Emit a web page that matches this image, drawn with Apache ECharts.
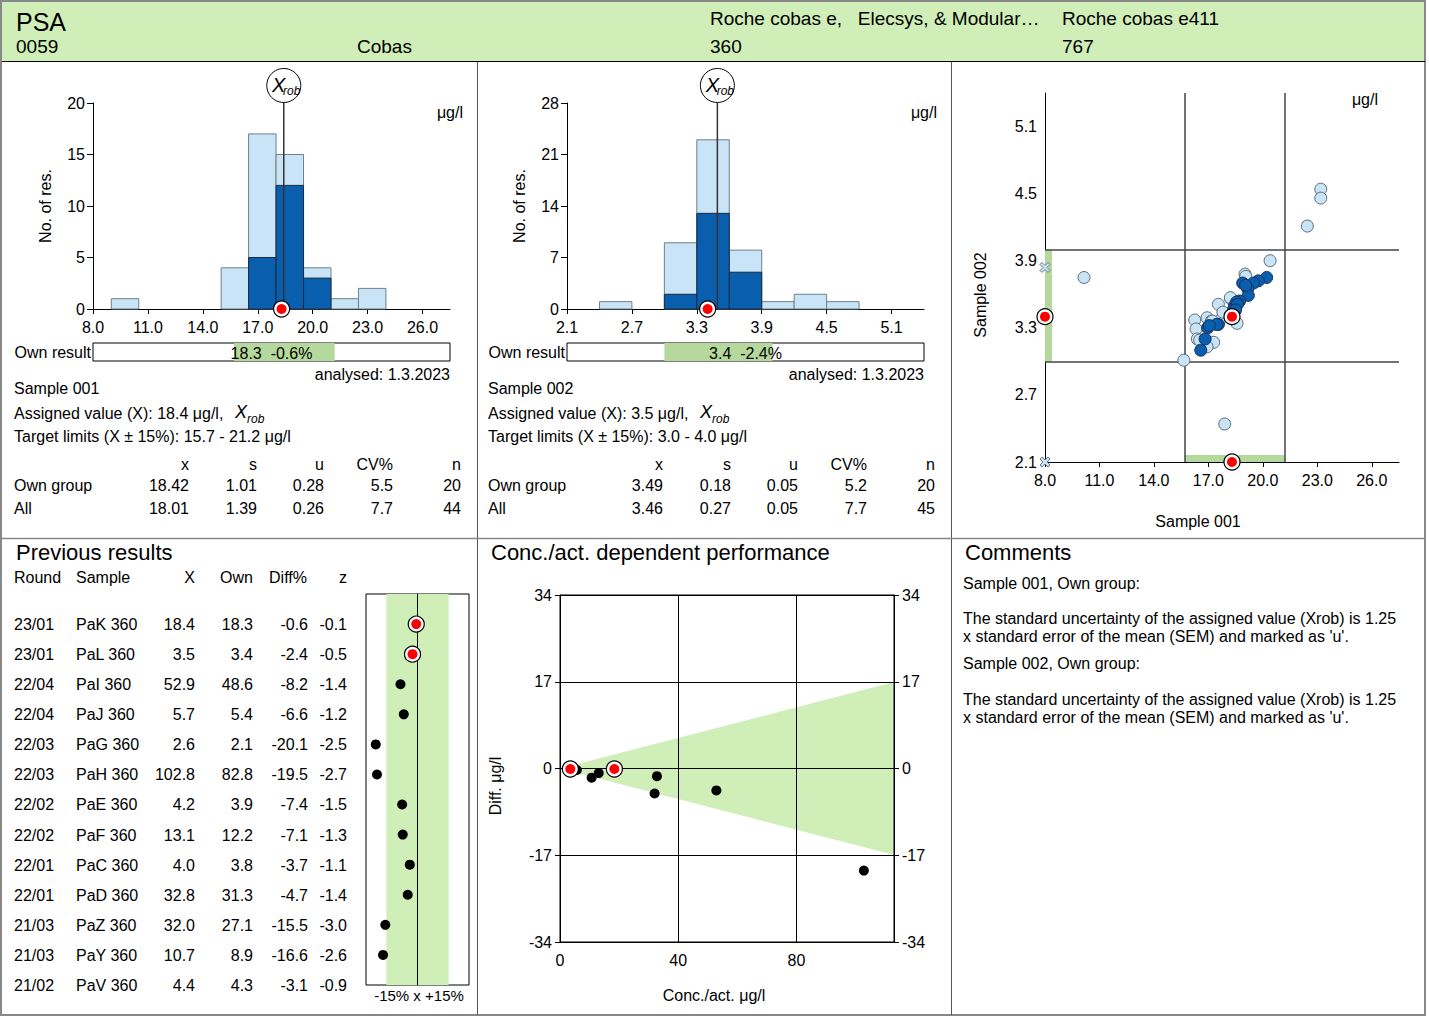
<!DOCTYPE html>
<html>
<head>
<meta charset="utf-8">
<title>PSA 0059</title>
<script src="https://cdn.jsdelivr.net/npm/echarts@6.0.0/dist/echarts.min.js"></script>
<style>
html,body{margin:0;padding:0;background:#fff;}
#main{width:1429px;height:1018px;}
</style>
</head>
<body>
<div id="main"></div>
<script>
// ---- sample 001 histogram (ug/l) ----
var hist1Lo  = [9.0, 15.0, 16.5, 18.0, 19.5, 21.0, 22.5];
var hist1Hi  = [10.5, 16.5, 18.0, 19.5, 21.0, 22.5, 24.0];
var hist1All = [1, 4, 17, 15, 4, 1, 2];
var hist1Own = [0, 0, 5, 12, 3, 0, 0];
var hist1Ticks = [8, 11, 14, 17, 20, 23, 26];
var xrob1 = 18.42, own1 = 18.3, limits1 = [15.7, 21.2];

// ---- sample 002 histogram ----
var hist2Lo  = [2.4, 3.0, 3.3, 3.6, 3.9, 4.2, 4.5];
var hist2Hi  = [2.7, 3.3, 3.6, 3.9, 4.2, 4.5, 4.8];
var hist2All = [1, 9, 23, 8, 1, 2, 1];
var hist2Own = [0, 2, 13, 5, 0, 0, 0];
var hist2Ticks = [2.1, 2.7, 3.3, 3.9, 4.5, 5.1];
var xrob2 = 3.49, own2 = 3.4, limits2 = [3.0, 4.0];

// ---- stats tables ----
var statHead = ['x', 's', 'u', 'CV%', 'n'];
var stat1Own = ['18.42', '1.01', '0.28', '5.5', '20'];
var stat1All = ['18.01', '1.39', '0.26', '7.7', '44'];
var stat2Own = ['3.49', '0.18', '0.05', '5.2', '20'];
var stat2All = ['3.46', '0.27', '0.05', '7.7', '45'];

// ---- Youden plot: sample 001 vs sample 002 ----
var youdenAllX = [23.19, 23.19, 22.45, 10.15, 20.40, 15.65, 17.90, 19.02, 18.23, 17.55, 16.25, 16.32,
                  16.39, 16.93, 17.16, 17.29, 16.93, 17.59, 18.58, 17.80, 19.06, 16.52, 17.22, 18.21];
var youdenAllY = [4.54, 4.46, 4.21, 3.75, 3.90, 3.01, 2.44, 3.78, 3.56, 3.51, 3.37, 3.29,
                  3.20, 3.39, 3.36, 3.17, 3.13, 3.36, 3.34, 3.44, 3.76, 3.19, 3.36, 3.57];
var youdenOwnX = [20.21, 19.75, 19.48, 18.89, 19.17, 19.20, 18.72, 18.55, 18.45, 18.40, 18.60, 17.55,
                  17.45, 16.96, 17.05, 16.82, 16.58, 18.50, 19.05];
var youdenOwnY = [3.75, 3.72, 3.70, 3.70, 3.65, 3.59, 3.54, 3.53, 3.50, 3.47, 3.51, 3.33,
                  3.33, 3.30, 3.32, 3.20, 3.10, 3.46, 3.68];
var youdenOutX = [8.0, 8.0];
var youdenOutY = [3.84, 2.1];
var youdenYTicks = [2.1, 2.7, 3.3, 3.9, 4.5, 5.1];

// ---- previous results ----
var currentRound = '23/01';
var prevRound  = ['23/01','23/01','22/04','22/04','22/03','22/03','22/02','22/02','22/01','22/01','21/03','21/03','21/02'];
var prevSample = ['PaK 360','PaL 360','PaI 360','PaJ 360','PaG 360','PaH 360','PaE 360','PaF 360','PaC 360','PaD 360','PaZ 360','PaY 360','PaV 360'];
var prevX      = [18.4, 3.5, 52.9, 5.7, 2.6, 102.8, 4.2, 13.1, 4.0, 32.8, 32.0, 10.7, 4.4];
var prevOwn    = [18.3, 3.4, 48.6, 5.4, 2.1, 82.8, 3.9, 12.2, 3.8, 31.3, 27.1, 8.9, 4.3];
var prevDiffP  = [-0.6, -2.4, -8.2, -6.6, -20.1, -19.5, -7.4, -7.1, -3.7, -4.7, -15.5, -16.6, -3.1];
var prevZ      = [-0.1, -0.5, -1.4, -1.2, -2.5, -2.7, -1.5, -1.3, -1.1, -1.4, -3.0, -2.6, -0.9];
var prevDiffU  = [-0.1, -0.1, -4.3, -0.3, -0.5, -20.0, -0.3, -0.9, -0.2, -1.5, -4.9, -1.8, -0.1];
var trendRows  = 12;   // rows shown in the small diff% plot

// ---- conc. dependent target band ----
var bandX  = [0, 113];
var bandHi = [0, 16.95];
var bandLo = [0, -16.95];

var FONT = '"Liberation Sans", Arial, sans-serif';
var GREEN_LIGHT = '#d0eeb8', GREEN = '#b5d99c';
var BLUE_LIGHT = '#c8e4f6', BLUE = '#0a5eae';

function txt(x, y, s, size, align, italic, rot) {
    var a = align || 'left';
    return {type:'text', x:x, y:y, rotation:rot || 0, silent:true, z:10,
        style:{text:s, fill:'#000', font:(italic ? 'italic ' : '') + (size || 16) + 'px ' + FONT,
            align:a, textAlign:a, verticalAlign:'middle', textVerticalAlign:'middle'}};
}
function hline(x1, x2, y, color, w) {
    return {type:'line', silent:true, shape:{x1:x1, y1:y, x2:x2, y2:y}, style:{stroke:color, lineWidth:w}};
}
function vline(x, y1, y2, color, w) {
    return {type:'line', silent:true, shape:{x1:x, y1:y1, x2:x, y2:y2}, style:{stroke:color, lineWidth:w}};
}
function zip(a, b) { return a.map(function (v, i) { return [v, b[i]]; }); }

function barSeries(idx, lo, hi, counts, fill, stroke, z) {
    var data = [];
    for (var i = 0; i < lo.length; i++) if (counts[i] > 0) data.push([lo[i], hi[i], counts[i]]);
    return {type:'custom', xAxisIndex:idx, yAxisIndex:idx, z:z, data:data, encode:{x:[0, 1], y:2},
        renderItem:function (params, api) {
            var p0 = api.coord([api.value(0), api.value(2)]);
            var p1 = api.coord([api.value(1), 0]);
            return {type:'rect', shape:{x:p0[0], y:p0[1], width:p1[0] - p0[0], height:p1[1] - p0[1]},
                style:{fill:fill, stroke:stroke, lineWidth:1}};
        }};
}
function xrobSeries(idx, xrob, ymax) {
    return {type:'custom', xAxisIndex:idx, yAxisIndex:idx, z:5, clip:false, data:[[xrob, ymax]], encode:{x:0, y:1},
        renderItem:function (params, api) {
            var b = api.coord([api.value(0), 0]);
            var t = api.coord([api.value(0), api.value(1)]);
            var cx = t[0], cy = t[1] - 17.5;
            return {type:'group', children:[
                {type:'line', shape:{x1:b[0], y1:b[1], x2:t[0], y2:t[1]}, style:{stroke:'#333', lineWidth:1.5}},
                {type:'circle', shape:{cx:cx, cy:cy, r:17}, style:{fill:'#fff', stroke:'#000', lineWidth:1}},
                {type:'text', x:cx - 5, y:cy - 1, style:{text:'X', font:'italic 20px ' + FONT, fill:'#000',
                    align:'center', textAlign:'center', verticalAlign:'middle', textVerticalAlign:'middle'}},
                {type:'text', x:cx + 8, y:cy + 5, style:{text:'rob', font:'italic 12px ' + FONT, fill:'#000',
                    align:'center', textAlign:'center', verticalAlign:'middle', textVerticalAlign:'middle'}}
            ]};
        }};
}
function stripSeries(idx, lim) {
    return {type:'custom', xAxisIndex:idx, yAxisIndex:idx, z:2, data:[lim], encode:{x:[0, 1]},
        renderItem:function (params, api) {
            var p0 = api.coord([api.value(0), 1]);
            var p1 = api.coord([api.value(1), 0]);
            return {type:'rect', shape:{x:p0[0], y:p0[1], width:p1[0] - p0[0], height:p1[1] - p0[1]}, style:{fill:GREEN}};
        }};
}
function ownMarker(xi, yi, data) {
    return [
        {type:'scatter', xAxisIndex:xi, yAxisIndex:yi, data:data, symbol:'circle', symbolSize:16, clip:false, z:8, silent:true,
            itemStyle:{color:'#fff', borderColor:'#000', borderWidth:1.2, opacity:1}},
        {type:'scatter', xAxisIndex:xi, yAxisIndex:yi, data:data, symbol:'circle', symbolSize:10, clip:false, z:9, silent:true,
            itemStyle:{color:'#ff0000', borderWidth:0, opacity:1}}
    ];
}
function f1(v) { return v.toFixed(1); }

var lab = {color:'#000', fontSize:16, fontFamily:FONT};
function histX(gi, min, max, ticks) {
    return {gridIndex:gi, type:'value', min:min, max:max,
        axisLine:{show:true, lineStyle:{color:'#000', width:1}},
        axisTick:{show:true, customValues:ticks, length:5, lineStyle:{color:'#000'}},
        axisLabel:Object.assign({customValues:ticks, formatter:f1, margin:10}, lab),
        splitLine:{show:false}};
}
function histY(gi, max, step) {
    return {gridIndex:gi, type:'value', min:0, max:max, interval:step,
        axisLine:{show:true, lineStyle:{color:'#000', width:1}},
        axisTick:{show:true, length:6, lineStyle:{color:'#000'}},
        axisLabel:Object.assign({margin:8}, lab), splitLine:{show:false}};
}
function hidden(gi, min, max, inv) {
    return {gridIndex:gi, type:'value', min:min, max:max, show:false, inverse:!!inv};
}

// rows of the previous-results table
var prevTrend = [], prevTrendOwn = [], concPts = [], concOwn = [];
for (var i = 0; i < prevRound.length; i++) {
    var cur = prevRound[i] === currentRound;
    if (i < trendRows) (cur ? prevTrendOwn : prevTrend).push([prevDiffP[i], i]);
    (cur ? concOwn : concPts).push([prevX[i], prevDiffU[i]]);
}

var series = [
    barSeries(0, hist1Lo, hist1Hi, hist1All, BLUE_LIGHT, '#6f7f8b', 2),
    barSeries(0, hist1Lo, hist1Hi, hist1Own, BLUE, '#1b2b3c', 3),
    xrobSeries(0, xrob1, 20),
    stripSeries(1, limits1),
    barSeries(2, hist2Lo, hist2Hi, hist2All, BLUE_LIGHT, '#6f7f8b', 2),
    barSeries(2, hist2Lo, hist2Hi, hist2Own, BLUE, '#1b2b3c', 3),
    xrobSeries(2, xrob2, 28),
    stripSeries(3, limits2),
    // youden green bands on the axes
    {type:'custom', xAxisIndex:4, yAxisIndex:4, z:2, clip:false, data:[limits1], encode:{x:[0, 1]},
        renderItem:function (params, api) {
            var a = api.coord([api.value(0), 2.1]), b = api.coord([api.value(1), 2.1]);
            return {type:'rect', shape:{x:a[0], y:a[1] - 7, width:b[0] - a[0], height:7}, style:{fill:GREEN}};
        }},
    {type:'custom', xAxisIndex:4, yAxisIndex:4, z:2, clip:false, data:[limits2], encode:{y:[0, 1]},
        renderItem:function (params, api) {
            var a = api.coord([8, api.value(0)]), b = api.coord([8, api.value(1)]);
            return {type:'rect', shape:{x:a[0], y:b[1], width:7, height:a[1] - b[1]}, style:{fill:GREEN}};
        }},
    {type:'scatter', xAxisIndex:4, yAxisIndex:4, z:4, data:zip(youdenAllX, youdenAllY), symbolSize:12,
        itemStyle:{color:BLUE_LIGHT, borderColor:'#5c6b77', borderWidth:1, opacity:1},
        markLine:{silent:true, symbol:['none', 'none'], label:{show:false}, z:3,
            lineStyle:{color:'#444', width:1.5, type:'solid'},
            data:[{xAxis:limits1[0]}, {xAxis:limits1[1]}, {yAxis:limits2[0]}, {yAxis:limits2[1]}]}},
    {type:'scatter', xAxisIndex:4, yAxisIndex:4, z:5, data:zip(youdenOwnX, youdenOwnY), symbolSize:12,
        itemStyle:{color:BLUE, borderColor:'#17325a', borderWidth:1, opacity:1}},
    {type:'scatter', xAxisIndex:4, yAxisIndex:4, z:5, clip:false, data:zip(youdenOutX, youdenOutY), symbolSize:10,
        symbol:'path://M2,0L5,3L8,0L10,2L7,5L10,8L8,10L5,7L2,10L0,8L3,5L0,2Z',
        itemStyle:{color:BLUE_LIGHT, borderColor:'#6b7a86', borderWidth:1, opacity:1}},
    // previous results mini plot
    {type:'custom', xAxisIndex:5, yAxisIndex:5, z:1, data:[[-15, 15]], encode:{x:[0, 1]},
        renderItem:function (params, api) {
            var a = api.coord([api.value(0), -1]), b = api.coord([api.value(1), 12]);
            return {type:'rect', shape:{x:a[0], y:a[1], width:b[0] - a[0], height:b[1] - a[1]}, style:{fill:GREEN_LIGHT}};
        }},
    {type:'scatter', xAxisIndex:5, yAxisIndex:5, z:5, data:prevTrend, symbolSize:10,
        itemStyle:{color:'#000', opacity:1},
        markLine:{silent:true, symbol:['none', 'none'], label:{show:false},
            lineStyle:{color:'#000', width:1, type:'solid'}, data:[{xAxis:0}]}},
    // conc. dependent plot
    {type:'custom', xAxisIndex:6, yAxisIndex:6, z:-1, data:[[bandX[0], bandX[1], bandHi[0], bandHi[1], bandLo[0], bandLo[1]]],
        encode:{x:[0, 1], y:[2, 3, 4, 5]},
        renderItem:function (params, api) {
            var pts = [api.coord([api.value(0), api.value(2)]), api.coord([api.value(1), api.value(3)]),
                       api.coord([api.value(1), api.value(5)]), api.coord([api.value(0), api.value(4)])];
            return {type:'polygon', shape:{points:pts}, style:{fill:GREEN_LIGHT}};
        }},
    {type:'scatter', xAxisIndex:6, yAxisIndex:6, z:5, data:concPts, symbolSize:10,
        itemStyle:{color:'#000', opacity:1}}
];
series = series.concat(ownMarker(0, 0, [[own1, 0]]), ownMarker(2, 2, [[own2, 0]]),
    ownMarker(4, 4, [[own1, own2], [8.0, own2], [own1, 2.1]]),
    ownMarker(5, 5, prevTrendOwn), ownMarker(6, 6, concOwn));

// ---- texts and frame ----
var g = [
    {type:'rect', silent:true, z:-5, shape:{x:2, y:2, width:1423, height:59}, style:{fill:GREEN_LIGHT}},
    {type:'rect', silent:true, z:-4, shape:{x:1, y:1, width:1424, height:1014}, style:{fill:'none', stroke:'#888', lineWidth:2}},
    hline(2, 1425, 61.5, '#000', 1),
    vline(477.5, 62, 1015, '#555', 1),
    vline(951.5, 62, 1015, '#555', 1),
    hline(2, 1425, 538.5, '#888', 1.5),
    txt(16, 22, 'PSA', 25),
    txt(16, 46, '0059', 19),
    txt(357, 46, 'Cobas', 19),
    txt(710, 18, 'Roche cobas e,   Elecsys, & Modular…', 19),
    txt(710, 46, '360', 19),
    txt(1062, 18, 'Roche cobas e411', 19),
    txt(1062, 46, '767', 19)
];
var panels = [
    {o:0, name:'Sample 001', assigned:'Assigned value (X): 18.4 μg/l,', xAt:235,
        target:'Target limits (X ± 15%): 15.7 - 21.2 μg/l', strip:'18.3  -0.6%', own:stat1Own, all:stat1All},
    {o:474, name:'Sample 002', assigned:'Assigned value (X): 3.5 μg/l,', xAt:226,
        target:'Target limits (X ± 15%): 3.0 - 4.0 μg/l', strip:'3.4  -2.4%', own:stat2Own, all:stat2All}
];
var statCol = [189, 257, 324, 393, 461];
panels.forEach(function (p) {
    var o = p.o;
    g.push(txt(463 + o, 112, 'μg/l', 16, 'right'));
    g.push(txt(45 + o, 206, 'No. of res.', 16, 'center', false, Math.PI / 2));
    g.push(txt(91 + o, 352, 'Own result', 16, 'right'));
    g.push(txt(271.5 + o, 353, p.strip, 16, 'center'));
    g.push(txt(450 + o, 374, 'analysed: 1.3.2023', 16, 'right'));
    g.push(txt(14 + o, 388, p.name, 16));
    g.push(txt(14 + o, 413, p.assigned, 16));
    g.push(txt(p.xAt + o, 412, 'X', 18, 'left', true));
    g.push(txt(p.xAt + 12 + o, 419, 'rob', 12, 'left', true));
    g.push(txt(14 + o, 436, p.target, 16));
    g.push(txt(14 + o, 485, 'Own group', 16));
    g.push(txt(14 + o, 508, 'All', 16));
    for (var c = 0; c < statHead.length; c++) {
        g.push(txt(statCol[c] + o, 464, statHead[c], 16, 'right'));
        g.push(txt(statCol[c] + o, 485, p.own[c], 16, 'right'));
        g.push(txt(statCol[c] + o, 508, p.all[c], 16, 'right'));
    }
});
g.push(txt(1378, 99, 'μg/l', 16, 'right'));
g.push(txt(980, 295, 'Sample 002', 16, 'center', false, Math.PI / 2));
g.push(txt(1198, 521, 'Sample 001', 16, 'center'));

g.push(txt(16, 552, 'Previous results', 22));
var prevHead = [['Round', 14, 'left'], ['Sample', 76, 'left'], ['X', 195, 'right'], ['Own', 253, 'right'], ['Diff%', 307, 'right'], ['z', 347, 'right']];
prevHead.forEach(function (h) { g.push(txt(h[1], 577, h[0], 16, h[2])); });
for (var r = 0; r < prevRound.length; r++) {
    var ry = 624.3 + r * 30.1;
    g.push(txt(14, ry, prevRound[r], 16));
    g.push(txt(76, ry, prevSample[r], 16));
    g.push(txt(195, ry, prevX[r].toFixed(1), 16, 'right'));
    g.push(txt(253, ry, prevOwn[r].toFixed(1), 16, 'right'));
    g.push(txt(308, ry, prevDiffP[r].toFixed(1), 16, 'right'));
    g.push(txt(347, ry, prevZ[r].toFixed(1), 16, 'right'));
}
g.push(txt(419, 995, '-15% x +15%', 15, 'center'));

g.push(txt(491, 552, 'Conc./act. dependent performance', 22));
g.push(txt(495, 786, 'Diff. μg/l', 16, 'center', false, Math.PI / 2));
g.push(txt(714, 995, 'Conc./act. μg/l', 16, 'center'));

g.push(txt(965, 552, 'Comments', 22));
var comments = [[583, 'Sample 001, Own group:'],
    [618, 'The standard uncertainty of the assigned value (Xrob) is 1.25'],
    [636, "x standard error of the mean (SEM) and marked as 'u'."],
    [663, 'Sample 002, Own group:'],
    [699, 'The standard uncertainty of the assigned value (Xrob) is 1.25'],
    [717, "x standard error of the mean (SEM) and marked as 'u'."]];
comments.forEach(function (c) { g.push(txt(963, c[0], c[1], 16)); });

var boxGrid = {show:true, borderColor:'#000', borderWidth:1, backgroundColor:'transparent'};
var myChart = echarts.init(document.getElementById('main'), null, {renderer:'svg'});
var option = {
    animation:false,
    textStyle:{fontFamily:FONT},
    grid:[
        {left:93, top:103, width:357, height:206},
        Object.assign({left:93, top:343, width:357, height:18}, boxGrid, {backgroundColor:'#fff'}),
        {left:567, top:103, width:357, height:206},
        Object.assign({left:567, top:343, width:357, height:18}, boxGrid, {backgroundColor:'#fff'}),
        {left:1045, top:93, width:354, height:369},
        Object.assign({left:366, top:594, width:103, height:391}, boxGrid),
        Object.assign({left:560, top:595, width:334, height:347}, boxGrid)
    ],
    xAxis:[
        histX(0, 8, 27.5, hist1Ticks),
        hidden(1, 8, 27.5),
        histX(2, 2.1, 5.4, hist2Ticks),
        hidden(3, 2.1, 5.4),
        histX(4, 8, 27.5, hist1Ticks),
        hidden(5, -24.8, 24.8),
        {gridIndex:6, type:'value', min:0, max:113, interval:40,
            axisLine:{show:true, lineStyle:{color:'#000'}},
            axisTick:{show:true, length:5, lineStyle:{color:'#000'}},
            axisLabel:Object.assign({margin:10, showMaxLabel:false}, lab),
            splitLine:{show:true, lineStyle:{color:'#000', width:1}}}
    ],
    yAxis:[
        histY(0, 20, 5),
        hidden(1, 0, 1),
        histY(2, 28, 7),
        hidden(3, 0, 1),
        {gridIndex:4, type:'value', min:2.1, max:5.4,
            axisLine:{show:true, lineStyle:{color:'#000'}},
            axisTick:{show:false, customValues:youdenYTicks},
            axisLabel:Object.assign({customValues:youdenYTicks, formatter:f1, margin:8}, lab),
            splitLine:{show:false}},
        hidden(5, -1, 12, true),
        {gridIndex:6, type:'value', min:-34, max:34, interval:17,
            axisLine:{show:true, lineStyle:{color:'#000'}},
            axisTick:{show:true, length:5, lineStyle:{color:'#000'}},
            axisLabel:Object.assign({margin:8}, lab),
            splitLine:{show:true, lineStyle:{color:'#000', width:1}}},
        {gridIndex:6, type:'value', position:'right', min:-34, max:34, interval:17,
            axisLine:{show:true, lineStyle:{color:'#000'}},
            axisTick:{show:true, length:5, lineStyle:{color:'#000'}},
            axisLabel:Object.assign({margin:8}, lab),
            splitLine:{show:false}}
    ],
    graphic:{elements:g},
    series:series
};
myChart.setOption(option);
</script>
</body>
</html>
